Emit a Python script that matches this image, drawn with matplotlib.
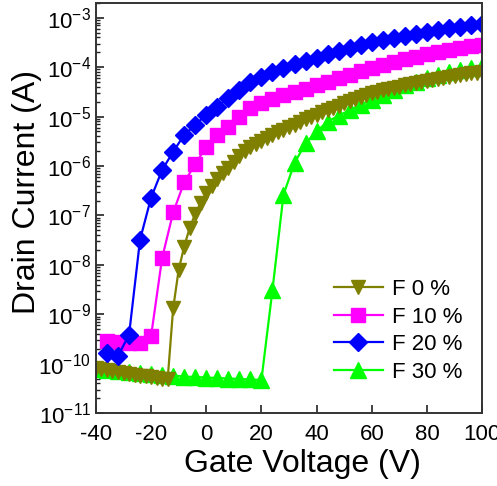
import matplotlib
matplotlib.use('Agg')
from matplotlib import pyplot as plt
from matplotlib.ticker import LogLocator, NullFormatter, LogFormatterMathtext
import numpy as np

plt.rcParams['font.family'] = ['Liberation Sans', 'DejaVu Sans']
plt.rcParams['mathtext.fontset'] = 'custom'
plt.rcParams['mathtext.rm'] = 'Liberation Sans'
plt.rcParams['axes.unicode_minus'] = False

# F 0 %  (step 2 V), log10 of drain current
v_f0 = list(range(-40, 101, 2))
log_f0 = [-10.08, -10.10, -10.12, -10.14, -10.16, -10.18, -10.20, -10.22, -10.24, -10.25,
          -10.27, -10.28, -10.30, -10.32,
          -8.88, -8.10, -7.63, -7.25, -6.97, -6.74,
          -6.55, -6.40, -6.27, -6.14, -6.03, -5.91, -5.80, -5.70, -5.62, -5.55,
          -5.49, -5.43, -5.38, -5.32, -5.27, -5.22, -5.16, -5.11, -5.05, -5.00,
          -4.96, -4.91, -4.87, -4.82, -4.78, -4.73, -4.69, -4.65, -4.60, -4.56,
          -4.52, -4.50, -4.47, -4.45, -4.42, -4.40, -4.37, -4.35, -4.32, -4.30,
          -4.28, -4.26, -4.24, -4.22, -4.20, -4.18, -4.16, -4.14, -4.12, -4.11,
          -4.09]

# F 10 % (step 4 V)
v_f10 = list(range(-36, 101, 4))
log_f10 = [-9.55, -9.57, -9.59, -9.59, -9.44, -7.86, -6.94, -6.33, -5.96, -5.61,
           -5.37, -5.20, -5.00, -4.82, -4.72, -4.64, -4.57, -4.50, -4.44, -4.37,
           -4.30, -4.22, -4.15, -4.08, -4.01, -3.95, -3.89, -3.84, -3.79, -3.74,
           -3.70, -3.66, -3.62, -3.58, -3.55]

# F 20 % (step 4 V)
v_f20 = list(range(-36, 101, 4))
log_f20 = [-9.78, -9.84, -9.42, -7.49, -6.64, -6.08, -5.71, -5.37, -5.17, -4.96,
           -4.80, -4.62, -4.46, -4.30, -4.19, -4.09, -4.01, -3.94, -3.87, -3.81,
           -3.74, -3.68, -3.62, -3.55, -3.49, -3.45, -3.40, -3.36, -3.32, -3.28,
           -3.24, -3.21, -3.18, -3.15, -3.12]

# F 30 % (step 4 V)
v_f30 = list(range(-40, 101, 4))
log_f30 = [-10.10, -10.12, -10.14, -10.16, -10.18, -10.20, -10.22, -10.24, -10.26, -10.27,
           -10.28, -10.29, -10.30, -10.31, -10.32, -10.33,
           -8.51, -6.58, -5.94, -5.54, -5.30, -5.10, -4.98, -4.87, -4.76, -4.66,
           -4.56, -4.46, -4.37, -4.29, -4.22, -4.15, -4.10, -4.05, -4.01, -3.97]

fig = plt.figure(figsize=(4.97, 4.86), dpi=100)
ax = fig.add_axes([0.193, 0.150, 0.777, 0.844])

h30, = ax.plot(v_f30, 10 ** np.array(log_f30), '-^', color='#00FF00', ms=11, lw=1.6, label='F 30 %')
h0, = ax.plot(v_f0, 10 ** np.array(log_f0), '-v', color='#808000', ms=10.5, lw=1.6, label='F 0 %')
h10, = ax.plot(v_f10, 10 ** np.array(log_f10), '-s', color='#FF00FF', ms=9.5, lw=1.6, label='F 10 %')
h20, = ax.plot(v_f20, 10 ** np.array(log_f20), '-D', color='#0000FF', ms=9.5, lw=1.6, label='F 20 %')

ax.set_yscale('log')
ax.set_xlim(-40, 100)
ax.set_ylim(1e-11, 2e-3)
ax.set_xticks([-40, -20, 0, 20, 40, 60, 80, 100])
ax.yaxis.set_major_locator(LogLocator(base=10, numticks=20))
ax.yaxis.set_minor_locator(LogLocator(base=10, subs=np.arange(2, 10), numticks=20))
ax.yaxis.set_minor_formatter(NullFormatter())
ax.yaxis.set_major_formatter(LogFormatterMathtext())

ax.tick_params(which='both', direction='in', top=False, right=False, labelsize=16, color='#222222')
ax.tick_params(which='major', length=6, width=1.2)
ax.tick_params(axis='x', pad=8)
ax.tick_params(which='minor', length=3, width=1.0)
for s in ax.spines.values():
    s.set_linewidth(1.4)
    s.set_color('#333333')

ax.set_xlabel('Gate Voltage (V)', fontsize=23)
ax.set_ylabel('Drain Current (A)', fontsize=23)
ax.xaxis.set_label_coords(0.536, -0.088)
ax.yaxis.set_label_coords(-0.14, 0.54)

leg = ax.legend(handles=[h0, h10, h20, h30], loc='lower right', frameon=False, fontsize=16,
                handlelength=2.2, handletextpad=0.4, labelspacing=0.3,
                bbox_to_anchor=(1.0, 0.025))

fig.savefig('out.png', dpi=100)
